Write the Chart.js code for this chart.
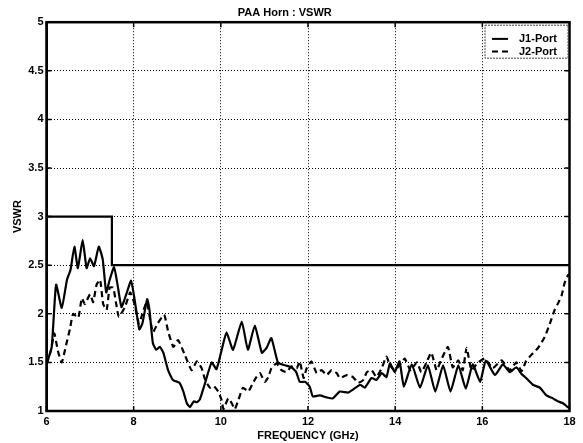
<!DOCTYPE html>
<html>
<head>
<meta charset="utf-8">
<script src="https://cdn.jsdelivr.net/npm/chart.js@4"></script>
<style>
  html, body { margin: 0; padding: 0; background: #fff; }
  #wrap { width: 583px; height: 443px; position: relative; }
</style>
</head>
<body>
<div id="wrap"><canvas id="c" width="583" height="443"></canvas></div>
<script>
// ---- data ----
const chartTitle = 'PAA Horn : VSWR';
const xTitle = 'FREQUENCY (GHz)';
const yTitle = 'VSWR';
const seriesNames = ['J1-Port', 'J2-Port'];

const j1Freq = [6.0, 6.12, 6.22, 6.35, 6.47, 6.55, 6.64, 6.72, 6.83, 6.92, 7.0, 7.09, 7.2, 7.29, 7.37, 7.45, 7.55, 7.63, 7.72, 7.83, 7.94, 8.02, 8.13, 8.2, 8.31, 8.36, 8.44, 8.52, 8.6, 8.68, 8.79, 8.9, 9.05, 9.14, 9.22, 9.29, 9.38, 9.45, 9.52, 9.64, 9.79, 9.9, 10.02, 10.13, 10.28, 10.48, 10.62, 10.78, 10.94, 11.05, 11.16, 11.31, 11.47, 11.62, 11.73, 11.81, 11.93, 12.04, 12.11, 12.27, 12.43, 12.57, 12.73, 12.92, 13.03, 13.2, 13.3, 13.46, 13.57, 13.69, 13.8, 13.88, 13.99, 14.1, 14.2, 14.38, 14.57, 14.75, 14.92, 15.1, 15.27, 15.45, 15.62, 15.78, 15.95, 16.08, 16.29, 16.47, 16.63, 16.78, 16.9, 16.98, 17.16, 17.32, 17.47, 17.62, 17.73, 17.85, 17.96, 18.0];
const j1Vswr = [1.48, 1.66, 2.3, 2.06, 2.35, 2.45, 2.69, 2.47, 2.76, 2.47, 2.57, 2.49, 2.69, 2.56, 2.22, 2.35, 2.48, 2.3, 2.07, 2.2, 2.34, 2.15, 1.84, 1.9, 2.15, 2.05, 1.7, 1.63, 1.66, 1.6, 1.42, 1.32, 1.29, 1.2, 1.08, 1.04, 1.1, 1.09, 1.12, 1.29, 1.5, 1.43, 1.63, 1.81, 1.63, 1.92, 1.63, 1.88, 1.6, 1.65, 1.75, 1.5, 1.47, 1.45, 1.4, 1.3, 1.3, 1.25, 1.15, 1.16, 1.14, 1.13, 1.2, 1.19, 1.22, 1.27, 1.24, 1.34, 1.32, 1.39, 1.35, 1.49, 1.4, 1.51, 1.25, 1.48, 1.24, 1.47, 1.2, 1.47, 1.2, 1.47, 1.23, 1.48, 1.3, 1.52, 1.37, 1.48, 1.4, 1.45, 1.38, 1.35, 1.27, 1.24, 1.16, 1.13, 1.1, 1.08, 1.04, 1.03];

const j2Freq = [6.0, 6.1, 6.18, 6.26, 6.35, 6.45, 6.54, 6.61, 6.73, 6.81, 6.88, 7.0, 7.07, 7.15, 7.23, 7.3, 7.38, 7.45, 7.53, 7.6, 7.66, 7.8, 7.92, 8.02, 8.12, 8.2, 8.3, 8.44, 8.55, 8.7, 8.79, 8.91, 9.02, 9.18, 9.33, 9.45, 9.56, 9.64, 9.75, 9.83, 9.94, 10.02, 10.06, 10.17, 10.25, 10.32, 10.4, 10.51, 10.63, 10.74, 10.82, 10.9, 11.01, 11.09, 11.16, 11.28, 11.39, 11.51, 11.62, 11.74, 11.81, 11.9, 11.97, 12.08, 12.2, 12.31, 12.43, 12.54, 12.66, 12.73, 12.89, 13.03, 13.15, 13.27, 13.35, 13.46, 13.57, 13.69, 13.8, 13.88, 13.99, 14.1, 14.22, 14.35, 14.5, 14.6, 14.72, 14.83, 14.95, 15.05, 15.21, 15.32, 15.45, 15.55, 15.64, 15.75, 15.9, 16.06, 16.24, 16.44, 16.63, 16.78, 16.9, 17.0, 17.13, 17.28, 17.43, 17.55, 17.66, 17.74, 17.82, 17.89, 17.97, 18.0];
const j2Vswr = [1.48, 1.62, 1.8, 1.62, 1.5, 1.68, 1.85, 2.0, 1.96, 2.16, 2.1, 2.2, 2.12, 2.3, 2.35, 2.1, 2.04, 2.27, 2.27, 2.1, 1.97, 2.07, 2.22, 2.1, 1.9, 2.0, 2.12, 1.81, 1.9, 1.99, 1.82, 1.66, 1.73, 1.57, 1.42, 1.51, 1.44, 1.32, 1.24, 1.26, 1.2, 1.11, 1.02, 1.13, 1.08, 1.02, 1.11, 1.24, 1.2, 1.29, 1.35, 1.39, 1.3, 1.35, 1.44, 1.49, 1.42, 1.4, 1.46, 1.44, 1.51, 1.34, 1.44, 1.51, 1.39, 1.42, 1.37, 1.42, 1.39, 1.34, 1.37, 1.35, 1.29, 1.32, 1.4, 1.42, 1.35, 1.44, 1.56, 1.47, 1.42, 1.47, 1.54, 1.42, 1.5, 1.4, 1.5, 1.6, 1.42, 1.52, 1.66, 1.45, 1.52, 1.42, 1.65, 1.42, 1.5, 1.54, 1.44, 1.52, 1.42, 1.5, 1.41, 1.51, 1.58, 1.65, 1.76, 1.9, 2.04, 2.11, 2.19, 2.32, 2.4, 2.4];

// specification limit line
const specFreq = [6, 7.5, 7.5, 18];
const specVswr = [3, 3, 2.5, 2.5];

const xMin = 6, xMax = 18, xStep = 2;
const yMin = 1, yMax = 5, yStep = 0.5;

const toPoints = (xs, ys) => xs.map((x, i) => ({ x: x, y: ys[i] }));

const FONT = '"Liberation Sans", Arial, Helvetica, sans-serif';

// frame, inner ticks and legend
const framePlugin = {
  id: 'frame',
  afterDraw(chart) {
    const { ctx, chartArea: a } = chart;
    ctx.save();
    // inward tick marks
    ctx.strokeStyle = '#000';
    ctx.lineWidth = 1.5;
    const xs = chart.scales.x, ys = chart.scales.y;
    xs.ticks.forEach(t => {
      const px = xs.getPixelForValue(t.value);
      ctx.beginPath();
      ctx.moveTo(px, a.bottom); ctx.lineTo(px, a.bottom - 5);
      ctx.moveTo(px, a.top); ctx.lineTo(px, a.top + 5);
      ctx.stroke();
    });
    ys.ticks.forEach(t => {
      const py = ys.getPixelForValue(t.value);
      ctx.beginPath();
      ctx.moveTo(a.left, py); ctx.lineTo(a.left + 5, py);
      ctx.moveTo(a.right, py); ctx.lineTo(a.right - 5, py);
      ctx.stroke();
    });
    // frame
    ctx.lineWidth = 2.5;
    ctx.strokeRect(a.left, a.top, a.right - a.left, a.bottom - a.top);

    // legend
    const bx = a.right - 84.5, by = a.top + 3, bw = 83, bh = 33;
    ctx.fillStyle = '#fff';
    ctx.fillRect(bx, by, bw, bh);
    ctx.setLineDash([2, 1]);
    ctx.lineWidth = 1;
    ctx.strokeStyle = '#444';
    ctx.strokeRect(bx, by, bw, bh);
    const rows = [by + 13.7, by + 26.3];
    ctx.font = 'bold 11px ' + FONT;
    ctx.textBaseline = 'middle';
    ctx.textAlign = 'left';
    [0, 1].forEach(i => {
      const ds = chart.data.datasets[i];
      ctx.save();
      ctx.strokeStyle = '#000';
      ctx.lineWidth = 2;
      ctx.setLineDash(ds.borderDash || []);
      ctx.beginPath();
      ctx.moveTo(bx + 7, rows[i]);
      ctx.lineTo(bx + 23, rows[i]);
      ctx.stroke();
      ctx.restore();
      ctx.fillStyle = '#000';
      ctx.fillText(ds.label, bx + 34, rows[i] + 0.5);
    });
    ctx.restore();
  }
};

new Chart(document.getElementById('c'), {
  type: 'line',
  data: {
    datasets: [
      { label: seriesNames[0], data: toPoints(j1Freq, j1Vswr), borderColor: '#000', borderWidth: 2.2, pointRadius: 0, tension: 0.15, fill: false },
      { label: seriesNames[1], data: toPoints(j2Freq, j2Vswr), borderColor: '#000', borderWidth: 2.2, borderDash: [6, 4], pointRadius: 0, tension: 0.15, fill: false },
      { label: 'Spec', data: toPoints(specFreq, specVswr), borderColor: '#000', borderWidth: 2.2, pointRadius: 0, tension: 0, fill: false }
    ]
  },
  options: {
    responsive: false,
    animation: false,
    layout: { padding: { left: 0, right: 13.5, top: 0, bottom: 0 } },
    plugins: {
      legend: { display: false },
      tooltip: { enabled: false },
      title: {
        display: true,
        text: chartTitle,
        color: '#000',
        font: { family: FONT, size: 11, weight: 'bold' },
        padding: { top: 6, bottom: 3 }
      }
    },
    scales: {
      x: {
        type: 'linear',
        min: xMin, max: xMax,
        afterFit(s) { s.height = 32; },
        ticks: { stepSize: xStep, color: '#000', padding: 4, font: { family: FONT, size: 11, weight: 'bold' }, maxRotation: 0, callback: v => String(v) },
        grid: { color: '#000', lineWidth: 1, drawTicks: false },
        border: { display: true, color: '#000', width: 2, dash: [1, 2] },
        title: { display: true, text: xTitle, color: '#000', font: { family: FONT, size: 11, weight: 'bold' }, padding: { top: 0, bottom: 0.5 } }
      },
      y: {
        type: 'linear',
        min: yMin, max: yMax,
        afterFit(s) { s.width = 46.5; },
        ticks: { stepSize: yStep, color: '#000', padding: 3, font: { family: FONT, size: 11, weight: 'bold' }, callback: v => String(v) },
        grid: { color: '#000', lineWidth: 1, drawTicks: false },
        border: { display: true, color: '#000', width: 2, dash: [1, 2] },
        title: { display: true, text: yTitle, color: '#000', font: { family: FONT, size: 11, weight: 'bold' }, padding: { top: 11.4, bottom: 0 } }
      }
    }
  },
  plugins: [framePlugin]
});
</script>
</body>
</html>
